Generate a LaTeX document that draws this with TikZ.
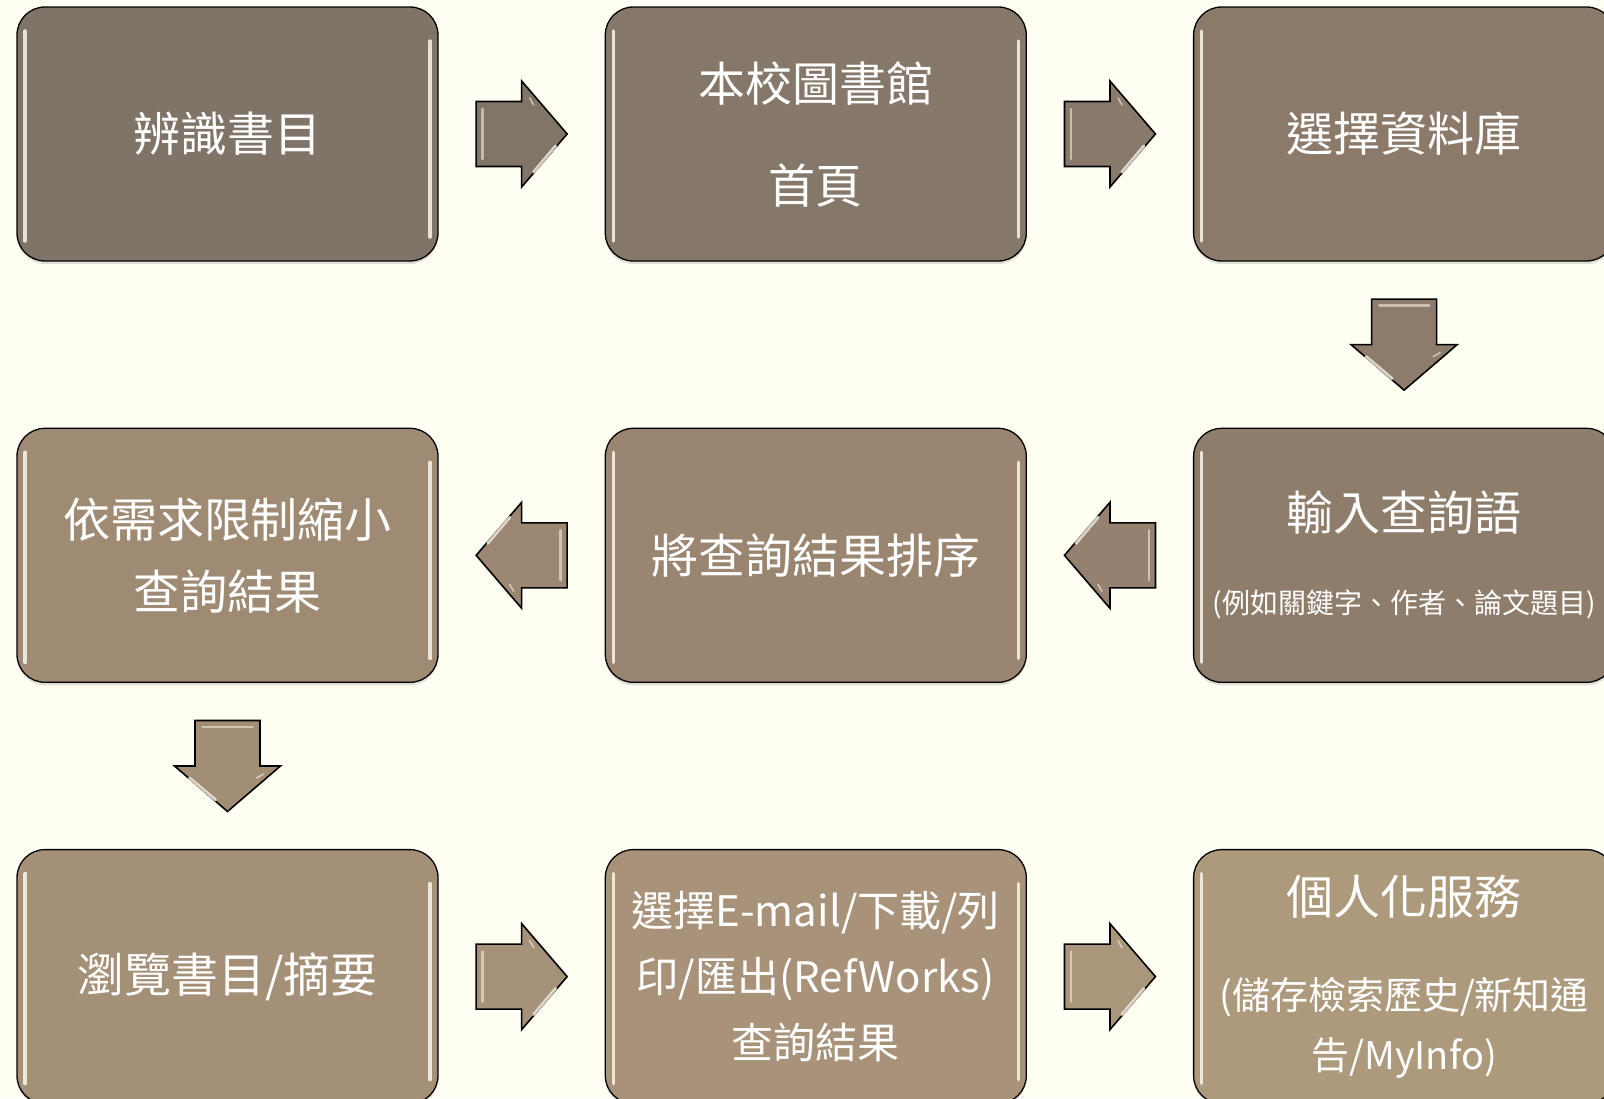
\documentclass[tikz,border=0pt]{standalone}
\usepackage{fontspec}
\newfontfamily\cjk{Noto Sans CJK TC}
\usetikzlibrary{positioning,shadows,calc}

\definecolor{bgcream}{HTML}{FFFFF3}
\definecolor{shine}{HTML}{FBF6EA}
\definecolor{boxA}{HTML}{7F7467}
\definecolor{boxB}{HTML}{857769}
\definecolor{boxC}{HTML}{8B7A6A}
\definecolor{boxD}{HTML}{8F7D6C}
\definecolor{boxE}{HTML}{9A8571}
\definecolor{boxF}{HTML}{9F8B74}
\definecolor{boxG}{HTML}{A48F77}
\definecolor{boxH}{HTML}{A8937A}
\definecolor{boxI}{HTML}{AD9A7D}

\begin{document}
\begin{tikzpicture}[x=1pt,y=-1pt,node distance=166pt,
  stepbox/.style={rectangle,rounded corners=28pt,draw=black,line width=1.3pt,
    minimum width=421pt,minimum height=254pt,inner sep=0pt,align=center,
    text=white,font=\cjk\fontsize{47}{47}\selectfont,
    drop shadow={shadow xshift=0pt,shadow yshift=-3pt,opacity=.25},
    path picture={
      \draw[shine,line width=3.5pt,line cap=round,opacity=.85]
        ([xshift=8pt,yshift=-24pt]path picture bounding box.north west) --
        ([xshift=8pt,yshift=20pt]path picture bounding box.south west);
      \draw[shine,line width=3.5pt,line cap=round,opacity=.85]
        ([xshift=-8pt,yshift=-34pt]path picture bounding box.north east) --
        ([xshift=-8pt,yshift=24pt]path picture bounding box.south east);
    }},
  pics/blkarrow/.style={code={
    \path[pic actions,line width=1.6pt,line join=miter]
      (-45.5,-32.5) -- (0,-32.5) -- (0,-53) -- (45.5,0) -- (0,53) -- (0,32.5)
      -- (-45.5,32.5) -- cycle;
    % bevel glints
    \draw[shine,line width=2.5pt,opacity=.55,line cap=round] (-39,-25) -- (-39,25);
    \draw[shine,line width=3pt,opacity=.8,line cap=round] (12,38) -- (34,12);
    \draw[shine,line width=1.5pt,opacity=.6,line cap=round] (8,-36) -- (12,-29);
  }}]

  \fill[bgcream] (0,0) rectangle (1604,1098);
  \useasboundingbox (0,0) rectangle (1604,1098);

  % first row
  \node[stepbox,fill=boxA] (b1) at (227.5,134) {辨識書目};
  \node[stepbox,fill=boxB] (b2) [right=of b1] {本校圖書館\\[55pt]首頁};
  \node[stepbox,fill=boxC] (b3) [right=of b2] {選擇資料庫};

  % second row
  \node[stepbox,fill=boxD] (b4) [below=of b3]
    {輸入查詢語\\[36pt]{\fontsize{28}{28}\selectfont (例如關鍵字、作者、論文題目)}};
  \node[stepbox,fill=boxE] (b5) [left=of b4] {將查詢結果排序};
  \node[stepbox,fill=boxF] (b6) [left=of b5] {依需求限制縮小\\[25pt]查詢結果};

  % third row
  \node[stepbox,fill=boxG] (b7) [below=of b6] {瀏覽書目/摘要};
  \node[stepbox,fill=boxH,font=\cjk\fontsize{42}{47}\selectfont] (b8) [right=of b7]
    {選擇E-mail/下載/列\\[19pt]印/匯出(RefWorks)\\[19pt]查詢結果};
  \node[stepbox,fill=boxI] (b9) [right=of b8]
    {個人化服務\\[48pt]{\fontsize{38}{38}\selectfont(儲存檢索歷史/新知通}\\[13pt]{\fontsize{38}{38}\selectfont 告/MyInfo)}};

  % block arrows
  \pic[fill=boxA!60!boxB,draw=black] (a12) at ($(b1.east)!.5!(b2.west)$) {blkarrow};
  \pic[fill=boxB!50!boxC,draw=black] (a23) at ($(b2.east)!.5!(b3.west)$) {blkarrow};
  \pic[fill=boxC!50!boxD,draw=black,rotate=-90] (a34) at ($(b3.south)!.5!(b4.north)$) {blkarrow};
  \pic[fill=boxD!50!boxE,draw=black,rotate=180] (a45) at ($(b4.west)!.5!(b5.east)$) {blkarrow};
  \pic[fill=boxE!50!boxF,draw=black,rotate=180] (a56) at ($(b5.west)!.5!(b6.east)$) {blkarrow};
  \pic[fill=boxF!50!boxG,draw=black,rotate=-90] (a67) at ($(b6.south)!.5!(b7.north)$) {blkarrow};
  \pic[fill=boxG!50!boxH,draw=black] (a78) at ($(b7.east)!.5!(b8.west)$) {blkarrow};
  \pic[fill=boxH!50!boxI,draw=black] (a89) at ($(b8.east)!.5!(b9.west)$) {blkarrow};
\end{tikzpicture}
\end{document}
